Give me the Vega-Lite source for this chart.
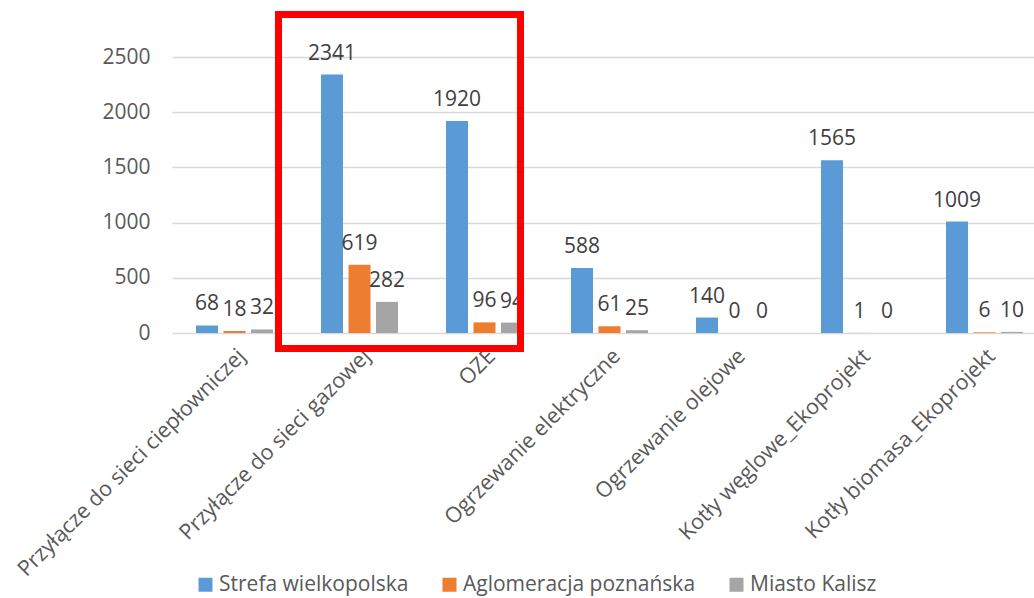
{
  "$schema": "https://vega.github.io/schema/vega-lite/v6.json",
  "width": 862,
  "height": 276,
  "autosize": {"type": "none"},
  "padding": {"left": 172, "top": 57, "right": 0, "bottom": 265},
  "background": "white",
  "config": {
    "font": "Open Sans",
    "view": {"stroke": null}
  },
  "data": {
    "values": [
      {"kategoria": "Przyłącze do sieci ciepłowniczej", "seria": "Strefa wielkopolska", "wartosc": 68},
      {"kategoria": "Przyłącze do sieci ciepłowniczej", "seria": "Aglomeracja poznańska", "wartosc": 18},
      {"kategoria": "Przyłącze do sieci ciepłowniczej", "seria": "Miasto Kalisz", "wartosc": 32},
      {"kategoria": "Przyłącze do sieci gazowej", "seria": "Strefa wielkopolska", "wartosc": 2341},
      {"kategoria": "Przyłącze do sieci gazowej", "seria": "Aglomeracja poznańska", "wartosc": 619},
      {"kategoria": "Przyłącze do sieci gazowej", "seria": "Miasto Kalisz", "wartosc": 282},
      {"kategoria": "OZE", "seria": "Strefa wielkopolska", "wartosc": 1920},
      {"kategoria": "OZE", "seria": "Aglomeracja poznańska", "wartosc": 96},
      {"kategoria": "OZE", "seria": "Miasto Kalisz", "wartosc": 94},
      {"kategoria": "Ogrzewanie elektryczne", "seria": "Strefa wielkopolska", "wartosc": 588},
      {"kategoria": "Ogrzewanie elektryczne", "seria": "Aglomeracja poznańska", "wartosc": 61},
      {"kategoria": "Ogrzewanie elektryczne", "seria": "Miasto Kalisz", "wartosc": 25},
      {"kategoria": "Ogrzewanie olejowe", "seria": "Strefa wielkopolska", "wartosc": 140},
      {"kategoria": "Ogrzewanie olejowe", "seria": "Aglomeracja poznańska", "wartosc": 0},
      {"kategoria": "Ogrzewanie olejowe", "seria": "Miasto Kalisz", "wartosc": 0},
      {"kategoria": "Kotły węglowe_Ekoprojekt", "seria": "Strefa wielkopolska", "wartosc": 1565},
      {"kategoria": "Kotły węglowe_Ekoprojekt", "seria": "Aglomeracja poznańska", "wartosc": 1},
      {"kategoria": "Kotły węglowe_Ekoprojekt", "seria": "Miasto Kalisz", "wartosc": 0},
      {"kategoria": "Kotły biomasa_Ekoprojekt", "seria": "Strefa wielkopolska", "wartosc": 1009},
      {"kategoria": "Kotły biomasa_Ekoprojekt", "seria": "Aglomeracja poznańska", "wartosc": 6},
      {"kategoria": "Kotły biomasa_Ekoprojekt", "seria": "Miasto Kalisz", "wartosc": 10}
    ]
  },
  "encoding": {
    "x": {
      "field": "kategoria",
      "type": "nominal",
      "sort": null,
      "scale": {"range": [0, 875], "paddingInner": 0.34, "paddingOuter": 0.17},
      "axis": {
        "title": null,
        "labelAngle": -45,
        "labelFontSize": 21.5,
        "labelColor": "#595959",
        "labelPadding": 12,
        "ticks": false,
        "domain": false,
        "labelLimit": 0
      }
    },
    "xOffset": {
      "field": "seria",
      "type": "nominal",
      "sort": ["Strefa wielkopolska", "Aglomeracja poznańska", "Miasto Kalisz"],
      "scale": {"paddingInner": 0.2, "paddingOuter": 0.1}
    },
    "y": {
      "field": "wartosc",
      "type": "quantitative",
      "scale": {"domain": [0, 2500], "nice": false},
      "axis": {
        "title": null,
        "values": [0, 500, 1000, 1500, 2000, 2500],
        "format": "d",
        "labelFontSize": 21,
        "labelColor": "#595959",
        "labelPadding": 22,
        "ticks": false,
        "domain": false,
        "gridColor": "#d9d9d9",
        "gridWidth": 1.5
      }
    }
  },
  "layer": [
    {
      "mark": {"type": "bar"},
      "encoding": {
        "color": {
          "field": "seria",
          "type": "nominal",
          "sort": ["Strefa wielkopolska", "Aglomeracja poznańska", "Miasto Kalisz"],
          "scale": {"range": ["#5B9BD5", "#ED7D31", "#A5A5A5"]},
          "legend": {
            "title": null,
            "orient": "none",
            "direction": "horizontal",
            "legendX": 23,
            "legendY": 517,
            "symbolType": "square",
            "symbolSize": 196,
            "symbolStrokeWidth": 0,
            "labelFontSize": 21,
            "labelColor": "#595959",
            "labelOffset": 3,
            "columnPadding": 30,
            "labelLimit": 0
          }
        }
      }
    },
    {
      "mark": {"type": "text", "baseline": "alphabetic", "dy": -15, "fontSize": 21, "color": "#404040"},
      "encoding": {
        "text": {"field": "wartosc", "type": "quantitative"}
      }
    },
    {
      "mark": {"type": "rect", "filled": false, "stroke": "#ff0000", "strokeWidth": 6},
      "encoding": {
        "x": {"datum": "Przyłącze do sieci gazowej", "type": "nominal", "bandPosition": -0.484},
        "x2": {"datum": "OZE", "bandPosition": 0.939},
        "y": {"datum": 2885, "type": "quantitative"},
        "y2": {"datum": -140},
        "xOffset": null
      }
    }
  ]
}
